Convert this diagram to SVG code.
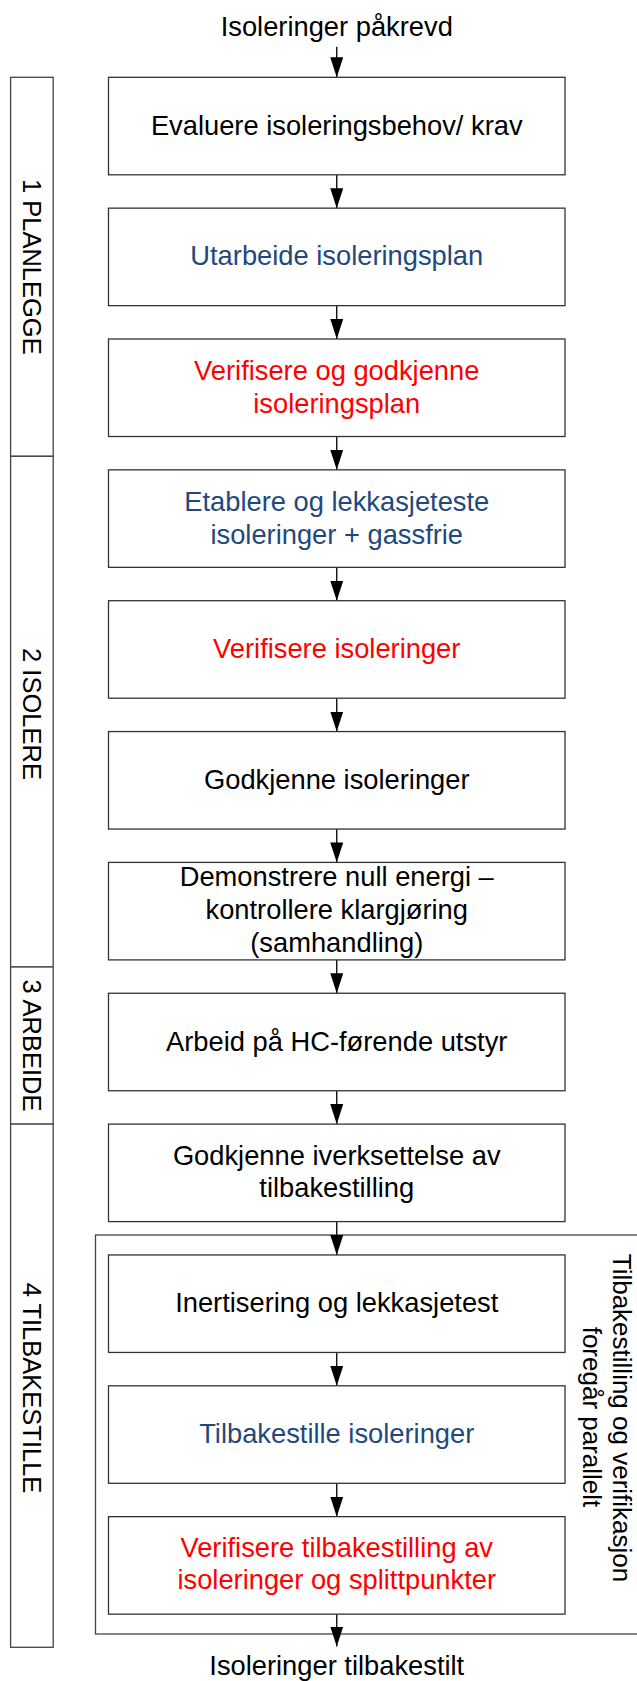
<svg xmlns="http://www.w3.org/2000/svg" width="637" height="1681" viewBox="0 0 637 1681">
<defs>
<style>
.box{fill:#fff;stroke:#333;stroke-width:1.3}
.lane{fill:#fff;stroke:#444;stroke-width:1.3}
.outer{fill:none;stroke:#444;stroke-width:1.3}
.t{font-family:"Liberation Sans",Arial,sans-serif;font-size:27.3px;text-anchor:middle;fill:#000}
.lt{font-family:"Liberation Sans",Arial,sans-serif;font-size:25.5px;text-anchor:middle;fill:#000}
.rt{font-family:"Liberation Sans",Arial,sans-serif;font-size:26px;text-anchor:middle;fill:#000}
.blue{fill:#1F497D}
.red{fill:#FF0000}
.arr{stroke:#000;stroke-width:1.3;fill:none;marker-end:url(#ah)}
</style>
<marker id="ah" viewBox="0 0 20 13" refX="20" refY="6.5" markerWidth="20" markerHeight="13" orient="auto" markerUnits="userSpaceOnUse">
<path d="M0,0 L20,6.5 L0,13 z" fill="#000"/>
</marker>
</defs>
<rect width="637" height="1681" fill="#fff"/>

<g id="lanes">
<g id="lane1"><rect class="lane" x="10.6" y="77.3" width="42.6" height="379"/>
<text class="lt" transform="translate(22.5,266.8) rotate(90)" x="0" y="0">1 PLANLEGGE</text></g>
<g id="lane2"><rect class="lane" x="10.6" y="456.3" width="42.6" height="510.7"/>
<text class="lt" transform="translate(22.5,714) rotate(90)" x="0" y="0">2 ISOLERE</text></g>
<g id="lane3"><rect class="lane" x="10.6" y="967" width="42.6" height="157.1"/>
<text class="lt" transform="translate(22.5,1045.5) rotate(90)" x="0" y="0">3 ARBEIDE</text></g>
<g id="lane4"><rect class="lane" x="10.6" y="1124.1" width="42.6" height="523.2"/>
<text class="lt" transform="translate(22.5,1388) rotate(90)" x="0" y="0">4 TILBAKESTILLE</text></g>
</g>

<g id="parallel">
<rect class="outer" x="95.5" y="1235" width="600" height="399"/>
<text class="rt" transform="translate(613,1418) rotate(90)" x="0" y="0">Tilbakestilling og verifikasjon</text>
<text class="rt" transform="translate(583,1417) rotate(90)" x="0" y="0">foregår parallelt</text>
</g>

<g id="connectors">
<line class="arr" x1="336.75" y1="46.7" x2="336.75" y2="77.3"/>
<line class="arr" x1="336.75" y1="174.8" x2="336.75" y2="208.15"/>
<line class="arr" x1="336.75" y1="305.65" x2="336.75" y2="339"/>
<line class="arr" x1="336.75" y1="436.5" x2="336.75" y2="469.85"/>
<line class="arr" x1="336.75" y1="567.35" x2="336.75" y2="600.7"/>
<line class="arr" x1="336.75" y1="698.2" x2="336.75" y2="731.55"/>
<line class="arr" x1="336.75" y1="829.05" x2="336.75" y2="862.4"/>
<line class="arr" x1="336.75" y1="959.9" x2="336.75" y2="993.25"/>
<line class="arr" x1="336.75" y1="1090.75" x2="336.75" y2="1124.1"/>
<line class="arr" x1="336.75" y1="1221.6" x2="336.75" y2="1254.95"/>
<line class="arr" x1="336.75" y1="1352.45" x2="336.75" y2="1385.8"/>
<line class="arr" x1="336.75" y1="1483.3" x2="336.75" y2="1516.65"/>
<line class="arr" x1="336.75" y1="1614.15" x2="336.75" y2="1646.5"/>
</g>

<g id="start"><text class="t" x="336.75" y="35.5">Isoleringer påkrevd</text></g>

<g id="n1"><rect class="box" x="108.5" y="77.3" width="456.5" height="97.5"/>
<text class="t" x="336.75" y="134.55">Evaluere isoleringsbehov/ krav</text></g>
<g id="n2"><rect class="box" x="108.5" y="208.15" width="456.5" height="97.5"/>
<text class="t blue" x="336.75" y="265.4">Utarbeide isoleringsplan</text></g>
<g id="n3"><rect class="box" x="108.5" y="339" width="456.5" height="97.5"/>
<text class="t red" x="336.75" y="380.2">Verifisere og godkjenne</text>
<text class="t red" x="336.75" y="412.5">isoleringsplan</text></g>
<g id="n4"><rect class="box" x="108.5" y="469.85" width="456.5" height="97.5"/>
<text class="t blue" x="336.75" y="510.8">Etablere og lekkasjeteste</text>
<text class="t blue" x="336.75" y="543.6">isoleringer + gassfrie</text></g>
<g id="n5"><rect class="box" x="108.5" y="600.7" width="456.5" height="97.5"/>
<text class="t red" x="336.75" y="657.95">Verifisere isoleringer</text></g>
<g id="n6"><rect class="box" x="108.5" y="731.55" width="456.5" height="97.5"/>
<text class="t" x="336.75" y="788.8">Godkjenne isoleringer</text></g>
<g id="n7"><rect class="box" x="108.5" y="862.4" width="456.5" height="97.5"/>
<text class="t" x="336.75" y="886">Demonstrere null energi –</text>
<text class="t" x="336.75" y="919">kontrollere klargjøring</text>
<text class="t" x="336.75" y="952">(samhandling)</text></g>
<g id="n8"><rect class="box" x="108.5" y="993.25" width="456.5" height="97.5"/>
<text class="t" x="336.75" y="1050.5">Arbeid på HC-førende utstyr</text></g>
<g id="n9"><rect class="box" x="108.5" y="1124.1" width="456.5" height="97.5"/>
<text class="t" x="336.75" y="1164.8">Godkjenne iverksettelse av</text>
<text class="t" x="336.75" y="1197.2">tilbakestilling</text></g>
<g id="n10"><rect class="box" x="108.5" y="1254.95" width="456.5" height="97.5"/>
<text class="t" x="336.75" y="1312.2">Inertisering og lekkasjetest</text></g>
<g id="n11"><rect class="box" x="108.5" y="1385.8" width="456.5" height="97.5"/>
<text class="t blue" x="336.75" y="1443.05">Tilbakestille isoleringer</text></g>
<g id="n12"><rect class="box" x="108.5" y="1516.65" width="456.5" height="97.5"/>
<text class="t red" x="336.75" y="1557.4">Verifisere tilbakestilling av</text>
<text class="t red" x="336.75" y="1589.2">isoleringer og splittpunkter</text></g>

<g id="end"><text class="t" x="336.75" y="1675">Isoleringer tilbakestilt</text></g>
</svg>
